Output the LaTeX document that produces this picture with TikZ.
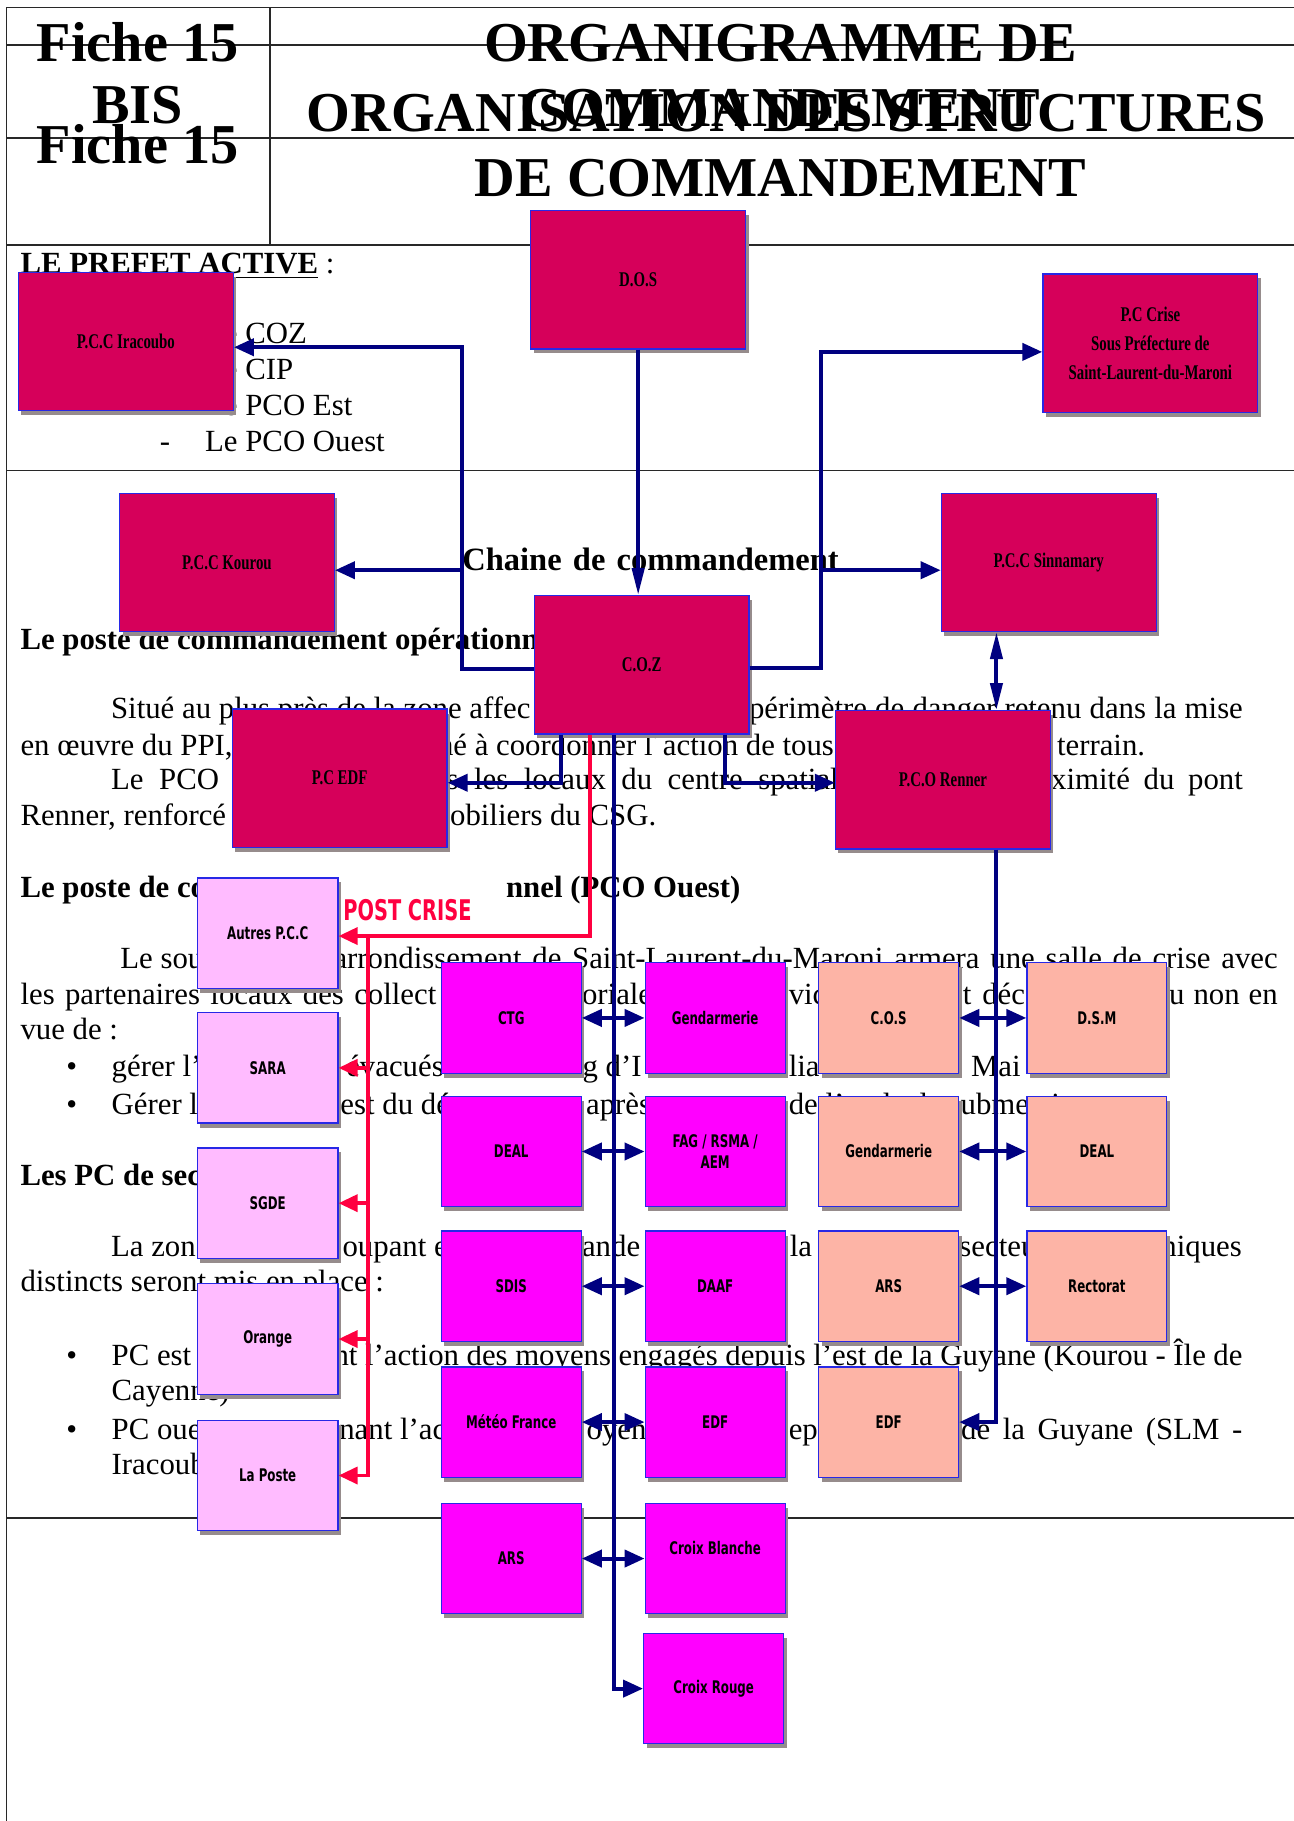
\documentclass[tikz,border=0pt]{standalone}
\usepackage{fontspec}
\setmainfont{Liberation Serif}
\newfontfamily\crimfont[FakeStretch=0.71]{Liberation Serif}
\newfontfamily\gridfont[FakeStretch=0.68]{DejaVu Sans}
\usetikzlibrary{arrows.meta,shadows,calc}
\definecolor{crimson}{RGB}{214,0,90}
\definecolor{magentaB}{RGB}{255,0,255}
\definecolor{pinkB}{RGB}{255,187,255}
\definecolor{salmonB}{RGB}{253,180,166}
\definecolor{boxblue}{RGB}{40,40,230}
\definecolor{shadowgray}{RGB}{150,140,140}
\definecolor{navyC}{RGB}{0,0,128}
\definecolor{redC}{RGB}{255,0,64}
\definecolor{rulegray}{RGB}{40,40,40}
\newcommand\bodyfs{\fontsize{30.8pt}{36pt}\selectfont}
\newcommand\titlefs{\fontsize{56.3pt}{65pt}\selectfont}
\newcommand\crimfs{\fontsize{20.9pt}{29pt}\selectfont}
\newcommand\gridfs{\fontsize{17.4pt}{21.7pt}\selectfont}
\newcommand\postfs{\fontsize{28.5pt}{32pt}\selectfont}
\newcommand\chainfs{\fontsize{32.5pt}{38pt}\selectfont}
\newlength\pxu
\setlength\pxu{1.1616pt}
\newcommand\spread[2]{\makebox[#1\pxu][s]{#2}}
\tikzset{
  hh/.tip={Triangle[length=20pt,width=17pt]},
  vh/.tip={Triangle[length=27pt,width=12pt]},
  rh/.tip={Triangle[length=19pt,width=17pt]},
  rule/.style={draw=rulegray, line width=1.6pt},
  boxbase/.style={draw=boxblue, line width=1.2pt, inner sep=0pt, align=center,
    drop shadow={shadow xshift=3pt, shadow yshift=-4.5pt, fill=shadowgray, opacity=1}},
  crimbox/.style={boxbase, fill=crimson, minimum width=214.9pt, minimum height=138.2pt, font=\crimfont\bfseries\crimfs},
  pinkbox/.style={boxbase, fill=pinkB, minimum width=140.6pt, minimum height=110.4pt, font=\gridfont\bfseries\gridfs},
  magbox/.style={boxbase, fill=magentaB, minimum width=140pt, minimum height=110.4pt, font=\gridfont\bfseries\gridfs},
  salbox/.style={boxbase, fill=salmonB, minimum width=140pt, minimum height=110.4pt, font=\gridfont\bfseries\gridfs},
  txt/.style={anchor=base west, inner sep=0pt, font=\bodyfs},
  btxt/.style={anchor=base west, inner sep=0pt, font=\bodyfs\bfseries},
  ttl/.style={anchor=base, inner sep=0pt, font=\titlefs\bfseries},
  navyline/.style={draw=navyC, line width=4pt},
  redline/.style={draw=redC, line width=3.5pt}
}
\begin{document}
\begin{tikzpicture}[x=1.1616pt,y=-1.1616pt]
\fill[white] (0,0) rectangle (1114,1568);
\useasboundingbox (0,0) rectangle (1114,1568);
% ---- page rules
\draw[rule] (5.5,6.5) -- (1114,6.5);
\draw[rule] (5.5,6.5) -- (5.5,1568);
\draw[rule] (232.5,6.5) -- (232.5,211);
\foreach \yy in {38.7,119,211,405,1307} \draw[rule] (5.5,\yy) -- (1114,\yy);
% ---- titles
\node[ttl] (fa) at (118.5,53) {Fiche 15};
\node[ttl] (fb) at (118.5,106) {BIS};
\node[ttl] (fc) at (118.5,141) {Fiche 15};
\node[ttl] (ta) at (672,53) {ORGANIGRAMME DE};
\node[ttl] (tb) at (672,109) {COMMANDEMENT};
\node[ttl] (tc) at (677,113) {ORGANISATION DES STRUCTURES};
\node[ttl] (td) at (672,169) {DE COMMANDEMENT};
% ---- section 1
\node[txt] (s1) at (17.5,235.3) {\textbf{LE PREFET ACTIVE} :};
\draw[line width=1.6pt] (17.5,238.8) -- (273.5,238.8);
\node[txt] (l1) at (176.5,296) {Le COZ};
\node[txt] (l2) at (176.5,327) {Le CIP};
\node[txt] (l3) at (176.5,358) {Le PCO Est};
\node[txt] (l4d) at (137.4,389) {-};
\node[txt] (l4) at (176.5,389) {Le PCO Ouest};
% ---- section 2
\node[anchor=base west, inner sep=0pt, font=\chainfs\bfseries] (ch) at (398,491) {\spread{324}{Chaine de commandement}};
\node[btxt] (h1) at (17.5,559) {Le poste de commandement opérationnel};
\node[txt] (p1a) at (95.5,619) {Situé au plus près de la zone affec};
\node[txt] (p1b) at (644.8,619) {\spread{425.2}{périmètre de danger retenu dans la mise}};
\node[txt] (p2a) at (17.5,650.8) {en œuvre du PPI,};
\node[txt] (p2b) at (377,650.8) {né à coordonner l´action de tous};
\node[txt] (p2c) at (910,650.8) {terrain.};
\node[txt] (p3a) at (95.5,680) {\spread{93}{Le PCO}};
\node[txt] (p3b) at (384.5,680) {\spread{337.5}{s les locaux du centre spatial}};
\node[txt] (p3c) at (905,680) {\spread{165}{ximité du pont}};
\node[txt] (p4a) at (17.5,711) {Renner, renforcé};
\node[txt] (p4b) at (387.4,711) {obiliers du CSG.};
\node[btxt] (h2a) at (17.5,773) {Le poste de co};
\node[btxt] (h2b) at (435.6,773) {nnel (PCO Ouest)};
\node[txt] (q1a) at (103.5,833.6) {Le sou};
\node[txt] (q1b) at (287,833.6) {\spread{813}{arrondissement de Saint-Laurent-du-Maroni armera une salle de crise avec}};
\node[txt] (q2a) at (17.5,864.5) {\spread{358}{les partenaires locaux des collect}};
\node[txt] (q2b) at (501,864.5) {oriale};
\node[txt] (q2c) at (679,864.5) {vic};
\node[txt] (q2d) at (829,864.5) {\spread{53.4}{t déc}};
\node[txt] (q2e) at (1006.6,864.5) {\spread{93.4}{u non en}};
\node[txt] (q3) at (17.5,895) {vue de :};
\node[txt] (b1) at (57,927) {•};
\node[txt] (b1a) at (96,927) {gérer l’};
\node[txt] (b1b) at (298,927) {évacués sur le bourg d’I};
\node[txt] (b1c) at (679,927) {lia};
\node[txt] (b1d) at (836,927) {Mai};
\node[txt] (b2) at (57,960) {•};
\node[txt] (b2a) at (96,960) {Gérer l};
\node[txt] (b2b) at (293,960) {est du dé};
\node[txt] (b2c) at (504.5,960) {après};
\node[txt] (b2d) at (679,960) {de l’onde de submersion.};
\node[btxt] (h3) at (17.5,1021) {Les PC de sec};
\node[txt] (r1a) at (95.5,1082) {La zon};
\node[txt] (r1b) at (294.8,1082) {oupant e};
\node[txt] (r1c) at (501,1082) {ande};
\node[txt] (r1d) at (680,1082) {la};
\node[txt] (r1e) at (826,1082) {secteu};
\node[txt, anchor=base east] (r1f) at (1069.5,1082) {niques};
\node[txt] (r2) at (17.5,1112) {distincts seront mis en place :};
\node[txt] (b3) at (57,1176) {•};
\node[txt] (b3a) at (96,1176) {PC est};
\node[txt] (b3b) at (287,1176) {\spread{782.7}{nt l’action des moyens engagés depuis l’est de la Guyane (Kourou - Île de}};
\node[txt] (b3c) at (96,1206) {Cayenne)};
\node[txt] (b4) at (57,1239.7) {•};
\node[txt] (b4a) at (96,1239.7) {PC oue};
\node[txt] (b4b) at (292,1239.7) {nant l’ac};
\node[txt] (b4c) at (505,1239.7) {oyens};
\node[txt] (b4d) at (679,1239.7) {ep};
\node[txt] (b4e) at (827.5,1239.7) {\spread{242}{de la Guyane (SLM -}};
\node[txt] (b4f) at (96,1269.5) {Iracoubo)};
% ---- crimson boxes
\node[crimbox] (dos) at (549.5,241) {D.O.S};
\node[crimbox] (irac) at (108.4,294.1) {P.C.C Iracoubo};
\node[crimbox] (crise) at (990.5,295.4) {P.C Crise\\Sous Préfecture de\\Saint-Laurent-du-Maroni};
\node[crimbox] (kourou) at (195.4,484.3) {P.C.C Kourou};
\node[crimbox] (sinn) at (903,484.2) {P.C.C Sinnamary};
\node[crimbox] (coz) at (552.5,572.5) {C.O.Z};
\node[crimbox] (edf) at (292.4,670) {P.C EDF};
\node[crimbox] (renner) at (811.9,671.5) {P.C.O Renner};
% ---- pink boxes
\node[pinkbox] (autres) at (230.5,803.5) {Autres P.C.C};
\node[pinkbox] (sara) at (230.5,919.5) {SARA};
\node[pinkbox] (sgde) at (230.5,1036) {SGDE};
\node[pinkbox] (orange) at (230.5,1153) {Orange};
\node[pinkbox] (laposte) at (230.5,1270.5) {La Poste};
% ---- magenta boxes
\node[magbox] (ctg) at (440.2,876.5) {CTG};
\node[magbox] (dealA) at (440.2,991.5) {DEAL};
\node[magbox] (sdis) at (440.2,1107.5) {SDIS};
\node[magbox] (meteo) at (440.2,1224.5) {Météo France};
\node[magbox] (arsA) at (440.2,1342) {ARS};
\node[magbox] (gendB) at (615.8,876.5) {Gendarmerie};
\node[magbox] (fag) at (615.8,991.5) {FAG / RSMA /\\AEM};
\node[magbox] (daaf) at (615.8,1107.5) {DAAF};
\node[magbox] (edfB) at (615.8,1224.5) {EDF};
\node[magbox] (cblanche) at (615.8,1342) {Croix Blanche\\\mbox{}};
\node[magbox] (crouge) at (614.5,1454) {Croix Rouge};
% ---- salmon boxes
\node[salbox] (cos) at (765.2,876.5) {C.O.S};
\node[salbox] (gendC) at (765.2,991.5) {Gendarmerie};
\node[salbox] (arsC) at (765.2,1107.5) {ARS};
\node[salbox] (edfC) at (765.2,1224.5) {EDF};
\node[salbox] (dsm) at (944.5,876.5) {D.S.M};
\node[salbox] (dealD) at (944.5,991.5) {DEAL};
\node[salbox] (rectorat) at (944.5,1107.5) {Rectorat};
% ---- POST CRISE
\node[anchor=base west, inner sep=0pt, text=redC, font=\gridfont\bfseries\postfs] (post) at (295.5,792.6) {POST CRISE};
% ---- connectors
\coordinate (jL) at (397.5,299);
\coordinate (jK) at (397.5,491);
\coordinate (jR) at (706.5,303);
\coordinate (jS) at (706.5,491);
\coordinate (jE) at (483,674);
\coordinate (jN) at (624,674);
\coordinate (busA) at (528.5,1454);
\coordinate (busR) at (858,1224.5);
\coordinate (rA) at (508,806);
\coordinate (rV) at (317,806);
\draw[navyline,-{hh}] ($(coz.west)+(0,3.5)$) -| (jL) -- (jL -| irac.east);
\draw[navyline,-{hh}] (jK) -- (jK -| kourou.east);
\draw[navyline,-{hh}] ($(coz.east)+(0,3)$) -| (jR) -- (jR -| crise.west);
\draw[navyline,-{hh}] (jS) -- (jS -| sinn.west);
\draw[navyline,-{vh}] (dos.south) -- (dos.south |- coz.north);
\draw[navyline,{vh}-{vh}] (sinn.south -| busR) -- (renner.north -| busR);
\draw[navyline,-{hh}] (coz.south -| jE) -- (jE) -- (jE -| edf.east);
\draw[navyline,-{hh}] (coz.south -| jN) -- (jN) -- (jN -| renner.west);
\draw[redline,-{rh}] (coz.south -| rA) -- (rA) -- (rA -| autres.east);
\draw[redline,-{rh}] (rV) |- (laposte.east);
\foreach \n in {sara,sgde,orange} \draw[redline,-{rh}] (\n.east -| rV) -- (\n.east);
\draw[navyline,-{hh}] (coz.south -| busA) |- (crouge.west);
\draw[navyline,-{hh}] (renner.south -| busR) |- (edfC.east);
\draw[navyline,{hh}-{hh}] (ctg.east) -- (gendB.west);
\draw[navyline,{hh}-{hh}] (dealA.east) -- (fag.west);
\draw[navyline,{hh}-{hh}] (sdis.east) -- (daaf.west);
\draw[navyline,{hh}-{hh}] (meteo.east) -- (edfB.west);
\draw[navyline,{hh}-{hh}] (arsA.east) -- (cblanche.west);
\draw[navyline,{hh}-{hh}] (cos.east) -- (dsm.west);
\draw[navyline,{hh}-{hh}] (gendC.east) -- (dealD.west);
\draw[navyline,{hh}-{hh}] (arsC.east) -- (rectorat.west);
\end{tikzpicture}
\end{document}
